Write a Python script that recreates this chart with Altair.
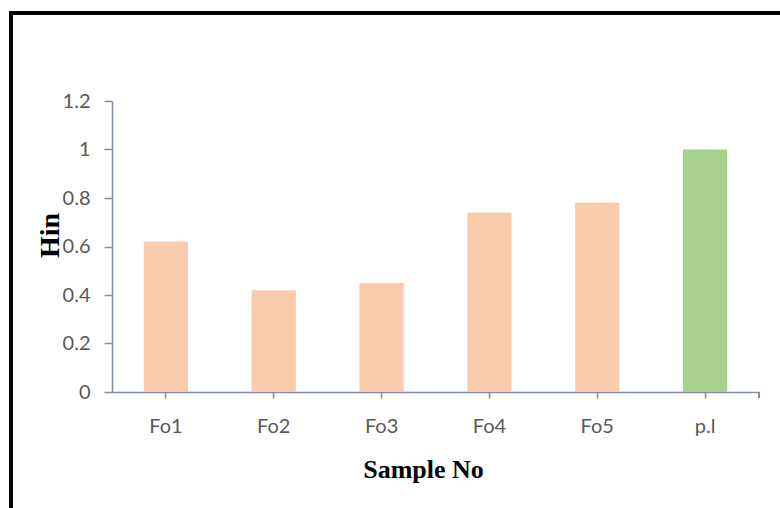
import altair as alt
import pandas as pd

# Hin value per sample; p.l is the reference sample
samples = ["Fo1", "Fo2", "Fo3", "Fo4", "Fo5", "p.l"]
hin = [0.62, 0.42, 0.45, 0.74, 0.78, 1.0]
y_ticks = [0, 0.2, 0.4, 0.6, 0.8, 1.0, 1.2]

df = pd.DataFrame({"sample": samples, "hin": hin})

W, H = 647, 291
AXIS = "#7D8DA4"
LABEL = "#595959"
PEACH = "#F7CBAC"
GREEN = "#A9D18E"

bars = alt.Chart(df).mark_bar(clip=False).encode(
    x=alt.X(
        "sample:N",
        sort=samples,
        scale=alt.Scale(paddingInner=0.59, paddingOuter=0.295),
        axis=alt.Axis(
            title="Sample No",
            titleFont="Liberation Serif",
            titleFontWeight="bold",
            titleFontSize=26,
            titleColor="#000000",
            titleX=311,
            titleY=85,
            titleBaseline="alphabetic",
            labelFont="Lato",
            labelFontSize=20,
            labelColor=LABEL,
            labelPadding=18,
            labelAngle=0,
            tickSize=6,
            tickColor=AXIS,
            domainColor=AXIS,
            domainWidth=1.5,
            tickWidth=1.5,
        ),
    ),
    y=alt.Y(
        "hin:Q",
        scale=alt.Scale(domain=[0, 1.2], nice=False),
        axis=alt.Axis(
            title="Hin",
            values=y_ticks,
            format="~g",
            grid=False,
            titleFont="Liberation Serif",
            titleFontWeight="bold",
            titleFontSize=28,
            titleColor="#000000",
            titleAngle=-90,
            titleX=-62,
            titleY=134,
            titleBaseline="middle",
            titleAlign="center",
            labelFont="Lato",
            labelFontSize=20,
            labelColor=LABEL,
            labelPadding=14,
            tickSize=8,
            tickColor=AXIS,
            domainColor=AXIS,
            domainWidth=1.5,
            tickWidth=1.5,
        ),
    ),
    color=alt.condition(alt.datum.sample == "p.l", alt.value(GREEN), alt.value(PEACH)),
)

# closing tick at the right end of the category axis
end_tick = alt.Chart(df).mark_rule(color=AXIS, strokeWidth=1.5).encode(
    x=alt.value(W), y=alt.value(H), y2=alt.value(H + 6)
)

# frame lines along the top and left of the figure
frame_top = alt.Chart(df).mark_rule(color="#000000", strokeWidth=3, clip=False).encode(
    x=alt.value(-103), x2=alt.value(W + 40), y=alt.value(-88)
)
frame_left = alt.Chart(df).mark_rule(color="#000000", strokeWidth=3, clip=False).encode(
    x=alt.value(-101), y=alt.value(-89), y2=alt.value(H + 130)
)

chart = (
    alt.layer(bars, end_tick, frame_top, frame_left)
    .properties(
        width=W,
        height=H,
        autosize=alt.AutoSizeParams(type="none"),
        padding={"left": 112, "top": 101, "right": 21, "bottom": 116},
        background="white",
    )
    .configure_view(stroke=None)
)

chart.save("out.html", embed_options={"renderer": "svg", "actions": False})
